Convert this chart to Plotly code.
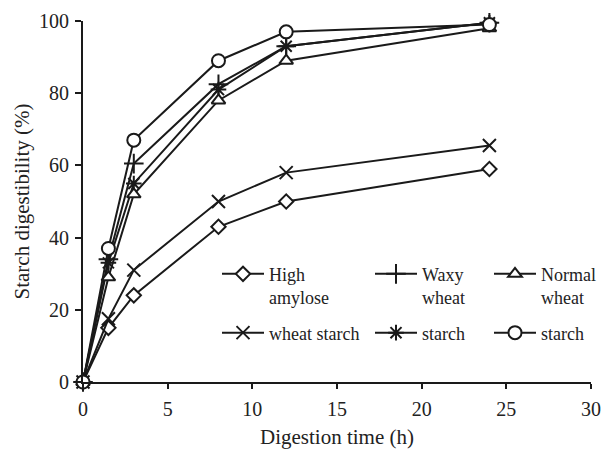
import plotly.graph_objects as go

time_h = [0, 1.5, 3, 8, 12, 24]
high_amylose = [0, 15, 24, 43, 50, 59]
series_x = [0, 17.5, 31, 50, 58, 65.5]
waxy = [0, 34, 60.5, 82.5, 93, 99.5]
series_star = [0, 33, 55, 81, 93, 99.5]
normal = [0, 29, 52, 78, 89, 98]
series_circle = [0, 37, 67, 89, 97, 99]

names = ["High<br>amylose", "wheat starch", "Waxy<br>wheat", "starch", "Normal<br>wheat", "starch"]
values = [high_amylose, series_x, waxy, series_star, normal, series_circle]
symbols = ["diamond", "x-thin", "cross-thin", "asterisk", "triangle-up", "circle"]
sizes = [11, 13, 14, 13, 12, 13]
legends = ["legend", "legend", "legend2", "legend2", "legend3", "legend3"]

FONT = "Liberation Serif, Times New Roman, serif"
fig = go.Figure()
for i, (nm, v, sym, sz, lg) in enumerate(zip(names, values, symbols, sizes, legends)):
    fig.add_trace(go.Scatter(
        x=time_h, y=v, name=nm, mode="lines+markers",
        line=dict(color="#1a1a1a", width=2),
        marker=dict(symbol=sym, size=sz, color="white",
                    line=dict(color="#1a1a1a", width=2)),
        cliponaxis=False, legend=lg, legendgroup=str(i),
    ))

leg_common = dict(font=dict(family=FONT, size=18, color="#222"),
                  bgcolor="rgba(0,0,0,0)", valign="top", tracegroupgap=9,
                  itemwidth=42,
                  xanchor="left", yanchor="top", y=0.35)
fig.update_layout(
    width=606, height=449,
    margin=dict(l=83, r=15, t=21, b=67, autoexpand=False),
    paper_bgcolor="white", plot_bgcolor="white",
    font=dict(family=FONT, color="#222"),
    legend=dict(x=(217 - 83) / 508, **leg_common),
    legend2=dict(x=(370 - 83) / 508, **leg_common),
    legend3=dict(x=(489 - 83) / 508, **leg_common),
    xaxis=dict(range=[0, 30], tickvals=[0, 5, 10, 15, 20, 25, 30],
               automargin=False,
               showgrid=False, zeroline=False, showline=True,
               linecolor="#1a1a1a", linewidth=2, ticks="outside",
               ticklen=5, tickwidth=1.5, tickcolor="#1a1a1a",
               ticklabelstandoff=3,
               tickfont=dict(family=FONT, size=20, color="#222"),
               title=dict(text="Digestion time (h)", standoff=11,
                          font=dict(family=FONT, size=21, color="#222"))),
    yaxis=dict(range=[0, 100], tickvals=[0, 20, 40, 60, 80, 100],
               automargin=False,
               showgrid=False, zeroline=False, showline=True,
               linecolor="#1a1a1a", linewidth=2, ticks="outside",
               ticklen=6, tickwidth=1.5, tickcolor="#1a1a1a",
               ticklabelstandoff=2,
               tickfont=dict(family=FONT, size=20, color="#222"),
               title=dict(text="Starch digestibility (%)", standoff=4,
                          font=dict(family=FONT, size=21, color="#222"))),
)
fig.write_html("out.html")
